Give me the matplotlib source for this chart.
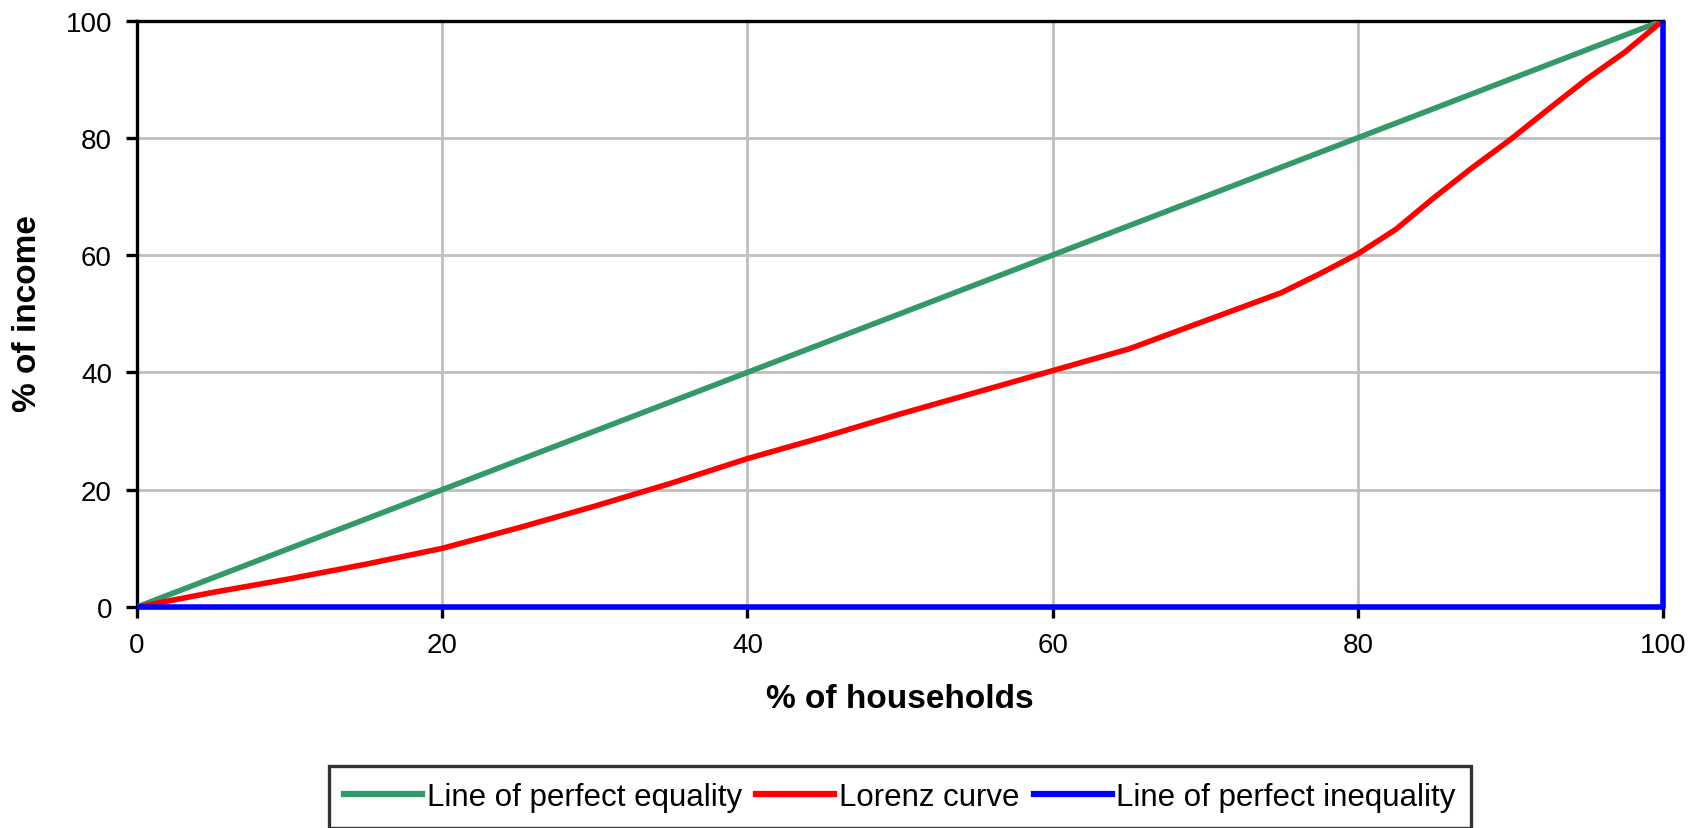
import matplotlib
matplotlib.use("Agg")
import matplotlib.pyplot as plt
from matplotlib.lines import Line2D

plt.rcParams['font.family'] = ['Liberation Sans', 'DejaVu Sans']
TS, LS, AS = 20, 22.5, 24

# Data
households = [0, 5, 10, 15, 20, 25, 30, 35, 40, 45, 50, 55, 60, 65, 70, 72.5, 75, 77.5, 80, 82.5, 85, 87.5, 90, 92.5, 95, 97.5, 100]
lorenz = [0, 2.5, 4.8, 7.3, 10, 13.5, 17.2, 21.1, 25.3, 29, 32.9, 36.6, 40.3, 44, 48.8, 51.2, 53.6, 56.8, 60.2, 64.4, 69.8, 74.9, 79.7, 84.9, 90, 94.6, 100]
equality_x = [0, 100]
equality_y = [0, 100]
inequality_x = [0, 100, 100]
inequality_y = [0, 0, 100]
ticks = [0, 20, 40, 60, 80, 100]

GREEN = '#339966'
RED = '#FF0000'
BLUE = '#0000FF'

fig = plt.figure(figsize=(17.02, 8.29), dpi=100)
ax = fig.add_axes([137/1702, 1 - 608/829, (1663-137)/1702, (608-21.5)/829])

ax.plot(equality_x, equality_y, color=GREEN, lw=4, solid_capstyle='butt', zorder=3,
        label='Line of perfect equality')
ax.plot(households, lorenz, color=RED, lw=4, solid_capstyle='butt', zorder=4,
        label='Lorenz curve')
ax.plot(inequality_x, inequality_y, color=BLUE, lw=4, solid_capstyle='butt', zorder=5,
        label='Line of perfect inequality', clip_on=False)

ax.set_xlim(0, 100)
ax.set_ylim(0, 100)
ax.set_xticks(ticks)
ax.set_yticks(ticks)
ax.set_xticklabels([str(t) for t in ticks])
ax.set_yticklabels([str(t) for t in ticks])
ax.grid(True, color='#C0C0C0', lw=2)
ax.set_axisbelow(True)
for s in ax.spines.values():
    s.set_linewidth(2.4)
    s.set_color('black')
ax.tick_params(direction='out', length=8, width=2.4, labelsize=TS, pad=10, colors='black')

fig.text(900/1702, 1 - 700/829, '% of households', fontsize=AS, fontweight='bold',
         ha='center', va='center')
fig.text(28/1702, 1 - 314/829, '% of income', fontsize=AS, fontweight='bold',
         ha='center', va='center', rotation=90)

handles = [Line2D([], [], color=GREEN, lw=4.5),
           Line2D([], [], color=RED, lw=4.5),
           Line2D([], [], color=BLUE, lw=4.5)]
labels = ['Line of perfect equality', 'Lorenz curve', 'Line of perfect inequality']
leg = fig.legend(handles, labels, loc='center', bbox_to_anchor=(900/1702, 1 - 798/829),
                 ncol=3, fontsize=LS, frameon=True, fancybox=False, edgecolor='black',
                 handlelength=2.5, handletextpad=0.15, columnspacing=0.45, borderpad=0.5,
                 borderaxespad=0)
leg.get_frame().set_linewidth(2.4)

fig.savefig('out.png', dpi=100)
